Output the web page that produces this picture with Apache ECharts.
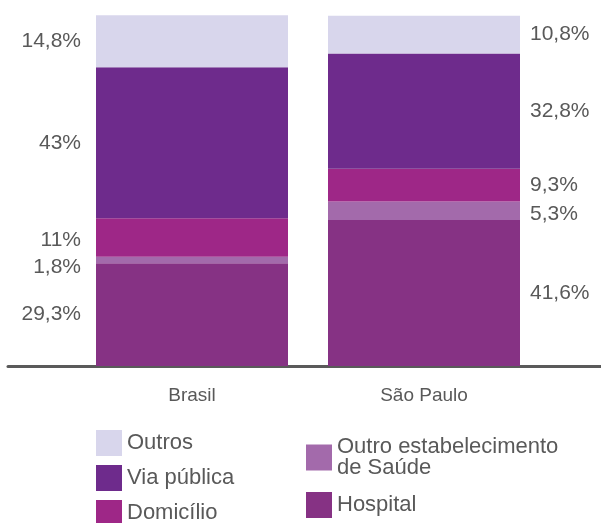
<!DOCTYPE html>
<html>
<head>
<meta charset="utf-8">
<script src="https://cdn.jsdelivr.net/npm/echarts@6/dist/echarts.min.js"></script>
<style>
  html, body { margin: 0; padding: 0; background: #fff; }
  #chart { width: 601px; height: 523px; }
</style>
</head>
<body>
<div id="chart"></div>
<script>
// categorias e valores (%), de baixo para cima na pilha
var categorias = ['Brasil', 'São Paulo'];
var hospital = [29.3, 41.6];
var outroEstab = [1.8, 5.3];
var domicilio = [11, 9.3];
var viaPublica = [43, 32.8];
var outros = [14.8, 10.8];

var nomes = ['Hospital', 'Outro estabelecimento de Saúde', 'Domicílio', 'Via pública', 'Outros'];
var valores = [hospital, outroEstab, domicilio, viaPublica, outros];
var cores = ['#863284', '#a36aab', '#9e2787', '#6e2b8c', '#d8d6ec'];

var corTexto = '#595959';
var fonte = '"Liberation Sans", Arial, sans-serif';

// pequenos deslocamentos dos rótulos para não sobrepor (Brasil: 11% e 1,8%)
var ajuste = {
  'Domicílio': [[0, 3], [0, 0]],
  'Outro estabelecimento de Saúde': [[0, 7], [0, 4]]
};

function fmt(v) {
  return String(v).replace('.', ',') + '%';
}

var series = nomes.map(function (nome, i) {
  return {
    name: nome,
    type: 'bar',
    stack: 'total',
    barWidth: 192,
    xAxisIndex: 0,
    yAxisIndex: 0,
    itemStyle: { color: cores[i] },
    emphasis: { disabled: true },
    data: valores[i].map(function (v, c) {
      var off = ajuste[nome] ? ajuste[nome][c] : [0, 0];
      return {
        value: v,
        label: {
          show: true,
          position: c === 0 ? 'left' : 'right',
          distance: c === 0 ? 15 : 10,
          offset: off,
          formatter: fmt(v),
          color: corTexto,
          fontSize: 21,
          fontFamily: fonte
        }
      };
    })
  };
});

var chart = echarts.init(document.getElementById('chart'));

// uma legenda por item, para posicionar como no original
function legenda(nome, left, top) {
  return {
    data: [nome],
    left: left,
    top: top,
    padding: 0,
    itemWidth: 26,
    itemHeight: 26,
    icon: 'rect',
    selectedMode: false,
    textStyle: { color: corTexto, fontSize: 22, fontFamily: fonte, lineHeight: 21 },
    formatter: function (n) {
      return n === 'Outro estabelecimento de Saúde' ? 'Outro estabelecimento\nde Saúde' : n;
    }
  };
}

chart.setOption({
  animation: false,
  grid: [
    { left: 76, right: 61, top: 15, bottom: 157 },
    { left: 8, right: 0, top: 15, bottom: 157 }
  ],
  xAxis: [
    {
      type: 'category',
      gridIndex: 0,
      data: categorias,
      axisLine: { show: false },
      axisTick: { show: false },
      axisLabel: { color: corTexto, fontSize: 19, fontFamily: fonte, margin: 20 }
    },
    {
      type: 'value',
      gridIndex: 1,
      axisLine: { show: true, onZero: false, lineStyle: { color: '#5a5a5a', width: 3 } },
      axisTick: { show: false },
      axisLabel: { show: false },
      splitLine: { show: false }
    }
  ],
  yAxis: [
    { type: 'value', gridIndex: 0, min: 0, max: 100, show: false },
    { type: 'value', gridIndex: 1, show: false }
  ],
  legend: [
    legenda('Outros', 96, 430),
    legenda('Via pública', 96, 465),
    legenda('Domicílio', 96, 500),
    legenda('Outro estabelecimento de Saúde', 306, 436),
    legenda('Hospital', 306, 492)
  ],
  series: series
});
</script>
</body>
</html>
